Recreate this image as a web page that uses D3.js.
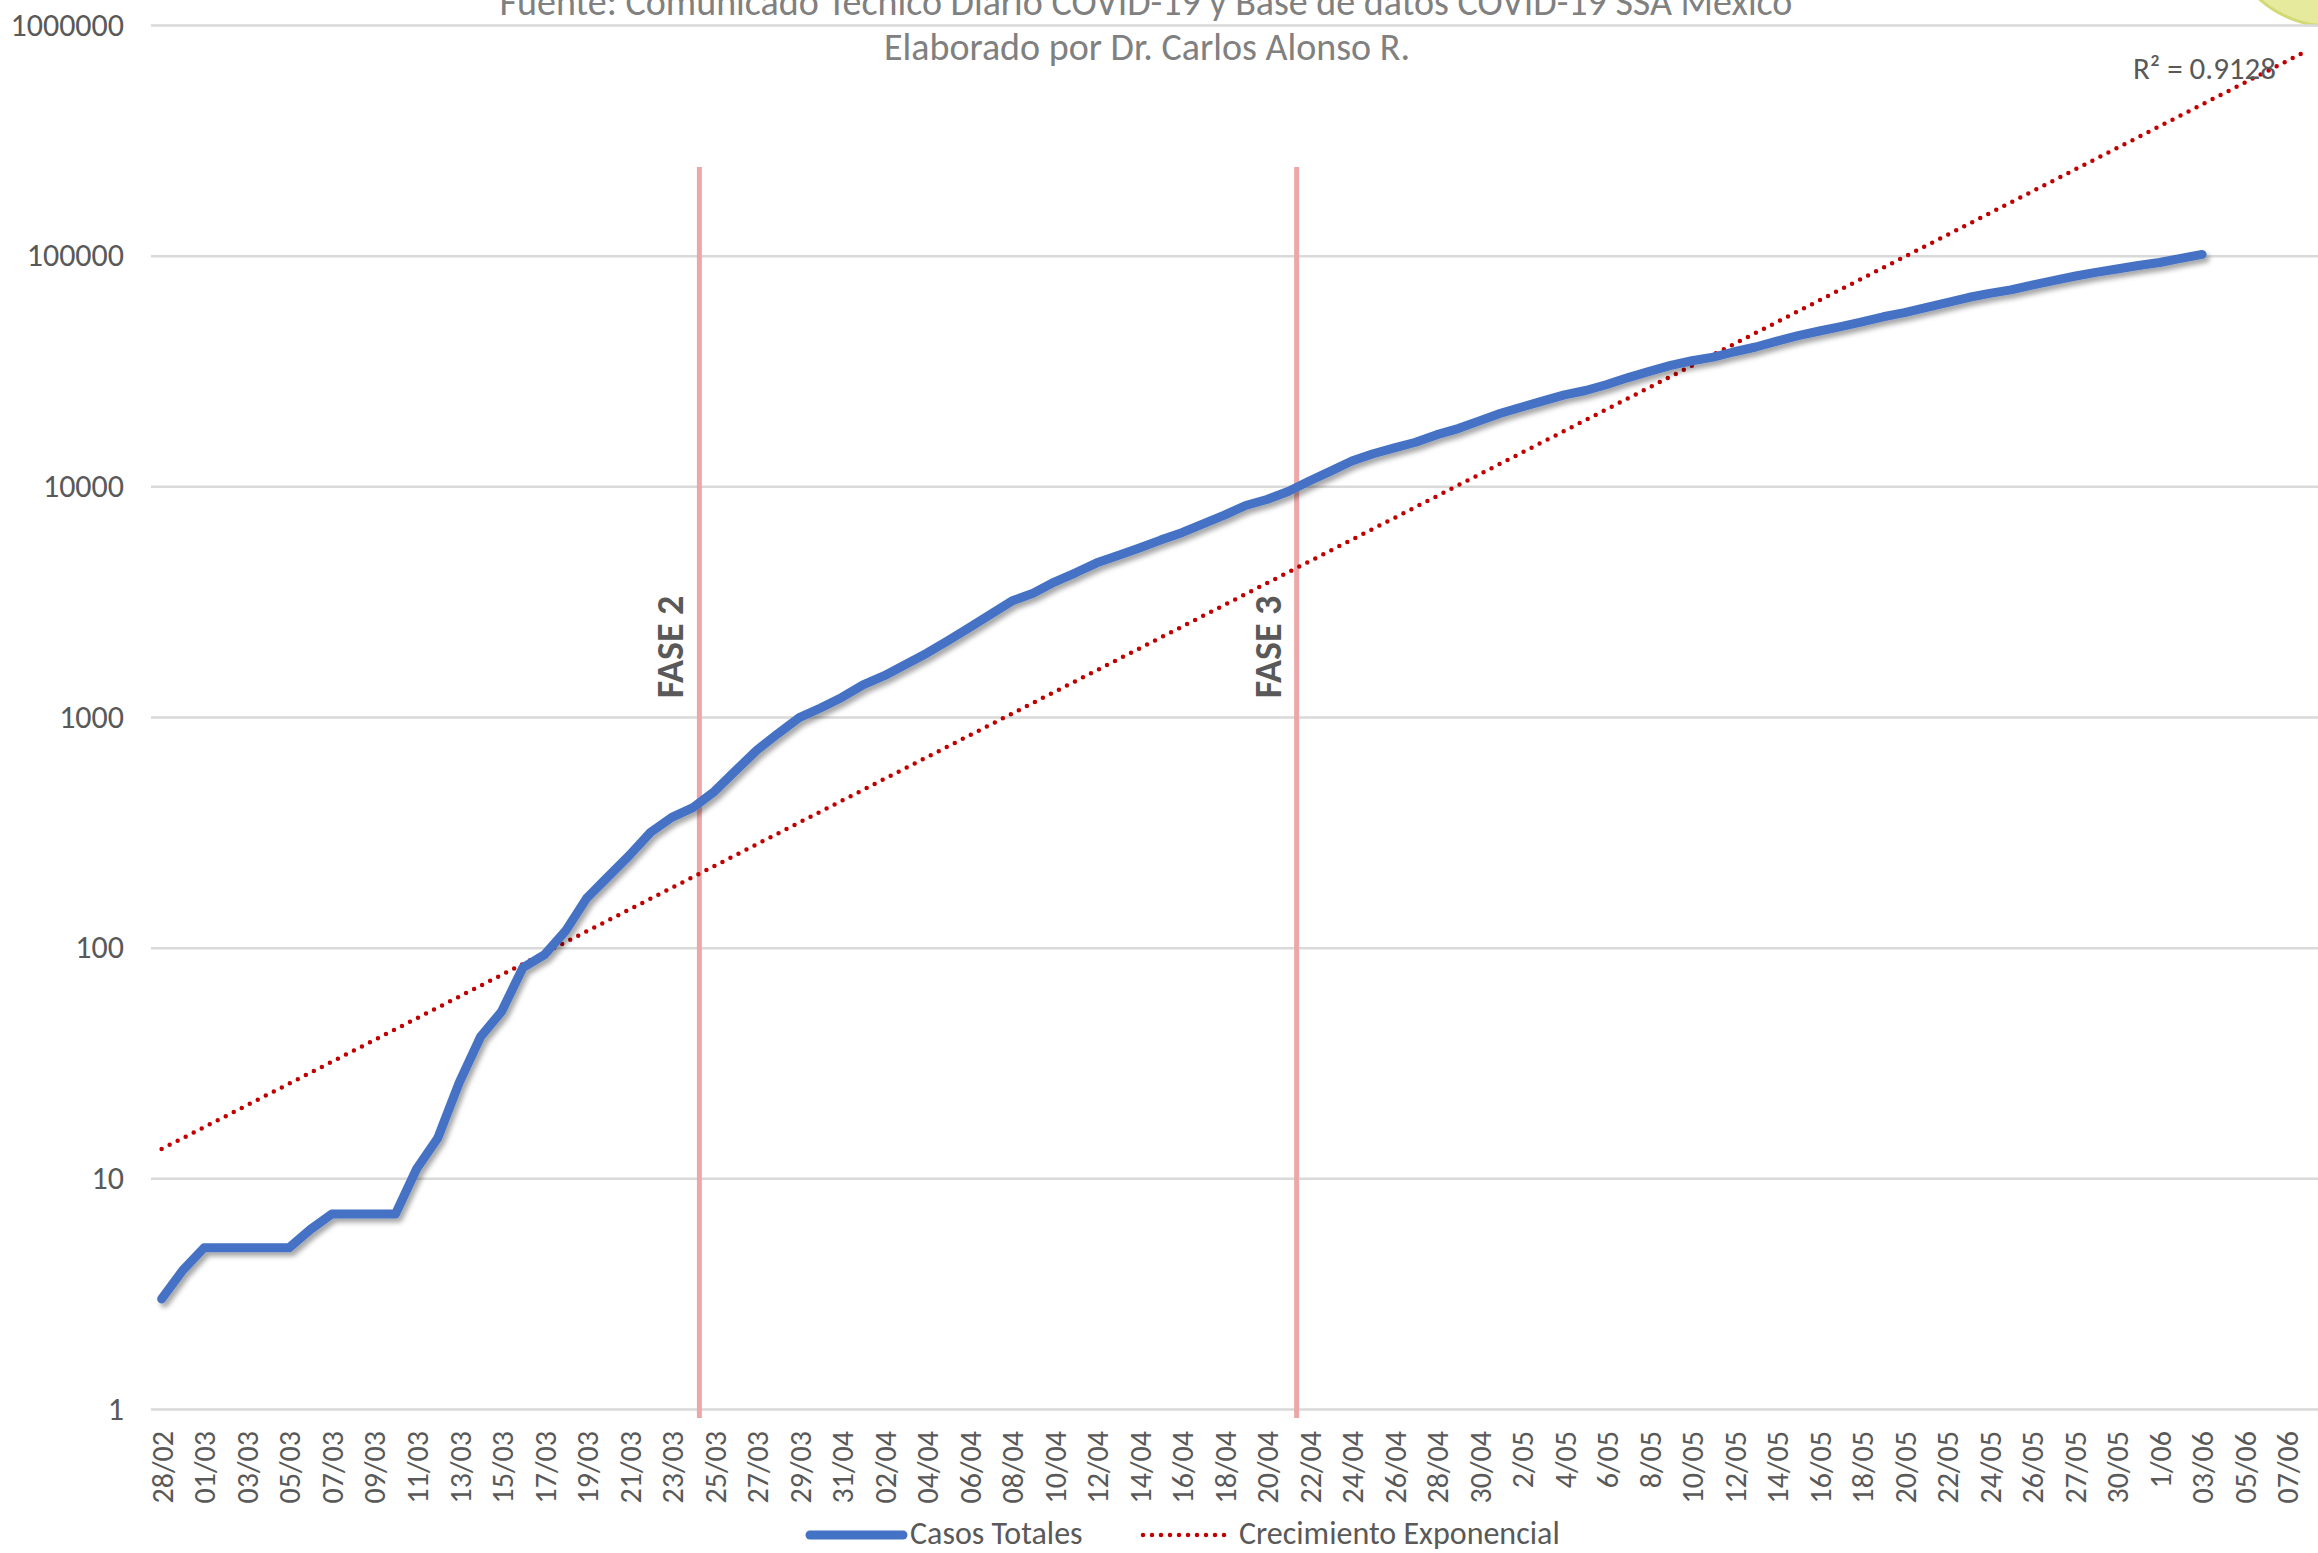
<!DOCTYPE html>
<html>
<head>
<meta charset="utf-8">
<script src="https://cdn.jsdelivr.net/npm/d3@7"></script>
<style>
  body { margin: 0; background: #ffffff; }
  svg { display: block; }
</style>
</head>
<body>
<div id="chart"></div>
<script>
// casos totales acumulados, un valor por dia desde 28/02 (indice 0) hasta 03/06 (indice 96)
var casosTotales = [
    3, 4, 5, 5, 5, 5, 5, 6, 7, 7, 7, 7, 11, 15,
    26, 41, 53, 82, 93, 118, 164, 203, 251, 316, 367, 405, 475, 585, 717, 848, 993,
    1094, 1215, 1378, 1510, 1688, 1890, 2143, 2439, 2785, 3181, 3441, 3844, 4219, 4661,
    5014, 5399, 5847, 6297, 6875, 7497, 8261, 8772, 9501, 10544, 11633, 12872, 13842,
    14677, 15529, 16752, 17799, 19224, 20739, 22088, 23471, 24905, 26025, 27634, 29616,
    31522, 33460, 35022, 36327, 38324, 40186, 42595, 45032, 47144, 49219, 51633, 54346,
    56594, 59567, 62527, 65856, 68620, 71105, 74560, 78023, 81400, 84627, 87512, 90664,
    93435, 97326, 101238
];

// etiquetas del eje x, una cada dos categorias (tal como aparecen en la grafica)
var etiquetasX = [
    "28/02", "01/03", "03/03", "05/03", "07/03", "09/03", "11/03", "13/03", "15/03", "17/03",
    "19/03", "21/03", "23/03", "25/03", "27/03", "29/03", "31/04", "02/04", "04/04", "06/04",
    "08/04", "10/04", "12/04", "14/04", "16/04", "18/04", "20/04", "22/04", "24/04", "26/04",
    "28/04", "30/04", "2/05", "4/05", "6/05", "8/05", "10/05", "12/05", "14/05", "16/05",
    "18/05", "20/05", "22/05", "24/05", "26/05", "27/05", "30/05", "1/06", "03/06", "05/06",
    "07/06"
];
var numCategorias = 102;     // 28/02 .. 08/06
var pronosticoAdelante = 5;  // periodos que la tendencia se extiende despues del ultimo dato

var ticksY = [1, 10, 100, 1000, 10000, 100000, 1000000];

var fases = [
    { label: "FASE 2", pos: 25.3 },
    { label: "FASE 3", pos: 53.4 }
];

var titulo1 = "Fuente: Comunicado Técnico Diario COVID-19 y Base de datos COVID-19 SSA México";
var titulo2 = "Elaborado por Dr. Carlos Alonso R.";
var textoR2 = "R² = 0.9128";

var W = 2318, H = 1553;
var FONT = "Carlito, Calibri, Lato, 'Open Sans', sans-serif";

var svg = d3.select("#chart").append("svg")
    .attr("width", W)
    .attr("height", H)
    .style("font-family", FONT)
;

var defs = svg.append("defs");
var sombra = defs.append("filter")
    .attr("id", "sombra")
    .attr("x", "-5%").attr("y", "-5%")
    .attr("width", "110%").attr("height", "110%")
;
sombra.append("feDropShadow")
    .attr("dx", 3).attr("dy", 4)
    .attr("stdDeviation", 2.5)
    .attr("flood-color", "#000000")
    .attr("flood-opacity", 0.35)
;

svg.append("rect")
    .attr("width", W).attr("height", H)
    .attr("fill", "#ffffff")
;

// pedazo del logo en la esquina superior derecha
svg.append("circle")
    .attr("cx", 2330).attr("cy", -80)
    .attr("r", 106)
    .attr("fill", "#e6ea9c")
    .attr("stroke", "#d3da74")
    .attr("stroke-width", 3)
;

var x = d3.scaleLinear()
    .domain([-0.5, numCategorias - 0.5])
    .range([151, 2319])
;
var y = d3.scaleLog()
    .domain([1, 1000000])
    .range([1409, 25])
;

// eje y con lineas de cuadricula
var ejeY = svg.append("g")
    .attr("transform", "translate(151,0)")
    .call(d3.axisLeft(y)
        .tickValues(ticksY)
        .tickFormat(d3.format("d"))
        .tickSizeInner(-(W - 151))
        .tickSizeOuter(0)
        .tickPadding(27))
;
ejeY.select(".domain").remove();
ejeY.selectAll(".tick line")
    .attr("stroke", "#d9d9d9")
    .attr("stroke-width", 2.5)
;
ejeY.selectAll(".tick text")
    .attr("fill", "#595959")
    .style("font-size", "32px")
    .style("font-family", FONT)
;

// eje x
var ejeX = svg.append("g")
    .attr("transform", "translate(0,1409)")
    .call(d3.axisBottom(x)
        .tickValues(d3.range(0, numCategorias, 2))
        .tickFormat(function(d){ return etiquetasX[d / 2]; })
        .tickSize(0))
;
ejeX.select(".domain").remove();
ejeX.selectAll(".tick text")
    .attr("transform", "rotate(-90)")
    .attr("text-anchor", "end")
    .attr("x", -22)
    .attr("y", 0)
    .attr("dy", "0.36em")
    .attr("fill", "#595959")
    .style("font-size", "30px")
    .style("font-family", FONT)
;

// lineas de fase
var fasesG = svg.append("g").attr("class", "fases");
fasesG.selectAll("line")
    .data(fases)
    .enter().append("line")
        .attr("x1", function(d){ return x(d.pos); })
        .attr("x2", function(d){ return x(d.pos); })
        .attr("y1", 167)
        .attr("y2", 1418)
        .attr("stroke", "#eca8a8")
        .attr("stroke-width", 5)
;
fasesG.selectAll("text")
    .data(fases)
    .enter().append("text")
        .attr("transform", function(d){ return "translate(" + (x(d.pos) - 16) + ",647) rotate(-90)"; })
        .attr("text-anchor", "middle")
        .attr("fill", "#595959")
        .style("font-size", "38px")
        .style("font-weight", "bold")
        .text(function(d){ return d.label; })
;

// tendencia exponencial (minimos cuadrados sobre log de los casos)
var n = casosTotales.length;
var mx = d3.mean(casosTotales, function(v, i){ return i; });
var my = d3.mean(casosTotales, function(v){ return Math.log(v); });
var sxy = 0, sxx = 0;
casosTotales.forEach(function(v, i){
    sxy += (i - mx) * (Math.log(v) - my);
    sxx += (i - mx) * (i - mx);
});
var pendiente = sxy / sxx;
var interc = my - pendiente * mx;

var tendencia = d3.range(0, n + pronosticoAdelante).map(function(i){
    return { i: i, v: Math.exp(interc + pendiente * i) };
});

svg.append("path")
    .datum(tendencia)
    .attr("fill", "none")
    .attr("stroke", "#c00000")
    .attr("stroke-width", 4.5)
    .attr("stroke-linecap", "round")
    .attr("stroke-dasharray", "0 9")
    .attr("d", d3.line()
        .x(function(d){ return x(d.i); })
        .y(function(d){ return y(d.v); }))
;

// serie casos totales
svg.append("path")
    .datum(casosTotales)
    .attr("fill", "none")
    .attr("stroke", "#4472c4")
    .attr("stroke-width", 9)
    .attr("stroke-linecap", "round")
    .attr("stroke-linejoin", "round")
    .attr("filter", "url(#sombra)")
    .attr("d", d3.line()
        .x(function(d, i){ return x(i); })
        .y(function(d){ return y(d); }))
;

// R cuadrada
svg.append("text")
    .attr("x", 2276)
    .attr("y", 68)
    .attr("dy", "0.35em")
    .attr("text-anchor", "end")
    .attr("fill", "#595959")
    .style("font-size", "31px")
    .text(textoR2)
;

// titulos
svg.append("text")
    .attr("x", 1146)
    .attr("y", 15)
    .attr("text-anchor", "middle")
    .attr("fill", "#808080")
    .style("font-size", "38px")
    .text(titulo1)
;
svg.append("text")
    .attr("x", 1147)
    .attr("y", 60)
    .attr("text-anchor", "middle")
    .attr("fill", "#808080")
    .style("font-size", "38px")
    .text(titulo2)
;

// leyenda
var leyenda = svg.append("g").attr("class", "leyenda");
leyenda.append("line")
    .attr("x1", 810).attr("x2", 903)
    .attr("y1", 1535).attr("y2", 1535)
    .attr("stroke", "#4472c4")
    .attr("stroke-width", 9)
    .attr("stroke-linecap", "round")
;
leyenda.append("text")
    .attr("x", 910).attr("y", 1533)
    .attr("dy", "0.35em")
    .attr("fill", "#595959")
    .style("font-size", "32px")
    .text("Casos Totales")
;
leyenda.append("line")
    .attr("x1", 1143).attr("x2", 1227)
    .attr("y1", 1535).attr("y2", 1535)
    .attr("stroke", "#c00000")
    .attr("stroke-width", 4.5)
    .attr("stroke-linecap", "round")
    .attr("stroke-dasharray", "0 9")
;
leyenda.append("text")
    .attr("x", 1239).attr("y", 1533)
    .attr("dy", "0.35em")
    .attr("fill", "#595959")
    .style("font-size", "32px")
    .text("Crecimiento Exponencial")
;
</script>
</body>
</html>
